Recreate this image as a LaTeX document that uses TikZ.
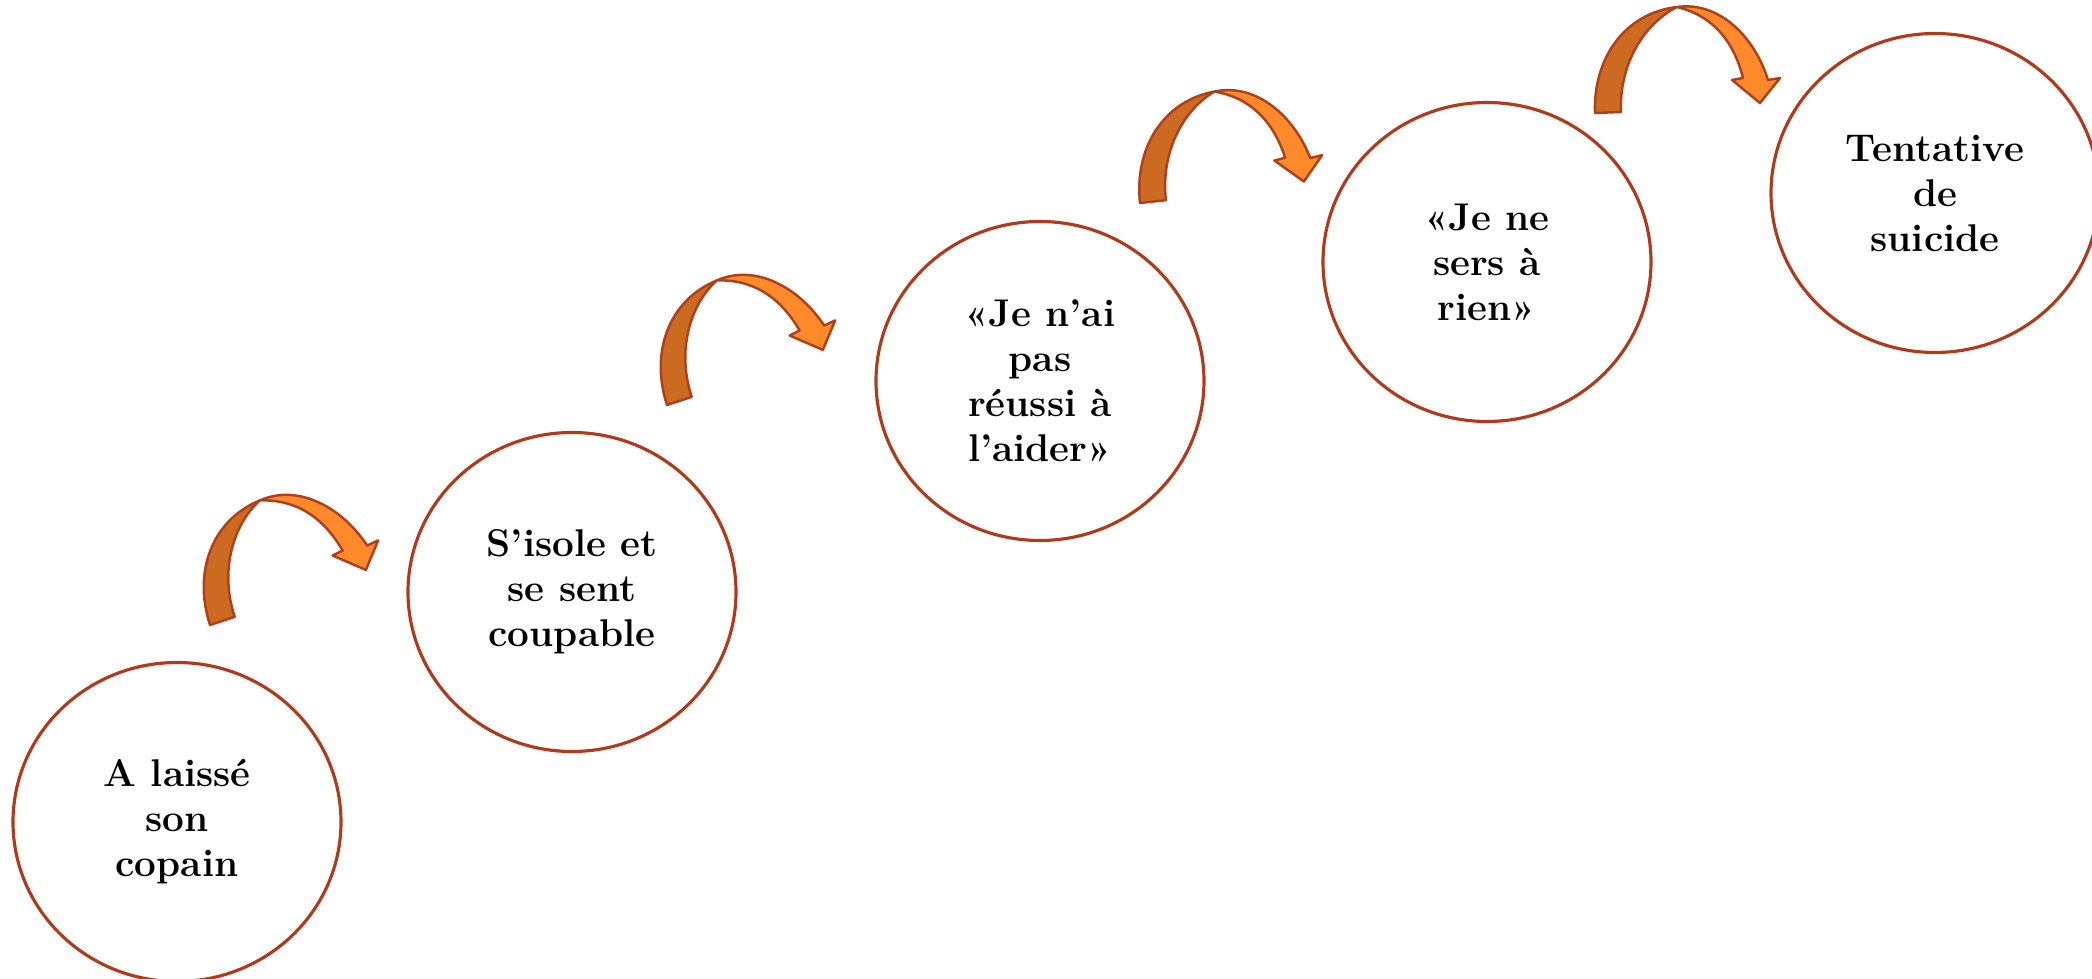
\documentclass[tikz,border=0pt]{standalone}
\usepackage{fontspec}
\usepackage{tikz}
\usetikzlibrary{shapes.geometric, positioning}

\definecolor{ringred}{HTML}{B23A1A}
\definecolor{arrowdark}{HTML}{CC6A22}
\definecolor{arrowlight}{HTML}{FF8A2C}
\definecolor{arrowline}{HTML}{B0401A}

\begin{document}
\begin{tikzpicture}[
        stage/.style={ellipse, draw=ringred, fill=white, line width=0.9pt, minimum width=3.28cm, minimum height=3.19cm, inner sep=0pt, align=center, font=\bfseries\fontsize{11}{12.8}\selectfont},
        bentarrow/.pic={
            \path[fill=arrowdark, draw=arrowline, line width=0.7pt, line join=round] (0,0) .. controls (-0.02,0.55) and (0.30,1.00) .. (0.82,1.06) .. controls (0.50,0.90) and (0.24,0.50) .. (0.26,0.01) -- cycle;
            \path[fill=arrowlight, draw=arrowline, line width=0.7pt, line join=round] (0.82,1.06) .. controls (1.25,1.12) and (1.60,0.75) .. (1.73,0.33) -- (1.85,0.35) -- (1.65,0.10) -- (1.37,0.33) -- (1.48,0.35) .. controls (1.38,0.75) and (1.15,0.98) .. (0.82,1.06) -- cycle;
        }
    ]
        \useasboundingbox (0,0) rectangle (20.92,-9.79);

        % Step 1
        \node[stage] (s1) at (1.77, -8.22) {A laissé\\son\\copain};

        % Step 2
        \node[stage] (s2) at (5.72, -5.92) {S’isole et\\se sent\\coupable};

        % Step 3
        \node[stage] (s3) at (10.40, -3.81) {«Je n’ai\\pas\\réussi à\\l’aider»};

        % Step 4
        \node[stage] (s4) at (14.87, -2.62) {«Je ne\\sers à\\rien»};

        % Step 5
        \node[stage] (s5) at (19.35, -1.93) {Tentative\\de\\suicide};

        % Arrows
        \pic[rotate=16] (a1) at (2.10, -6.25) {bentarrow};
        \pic[rotate=16] (a2) at (6.67, -4.05) {bentarrow};
        \pic[rotate=4] (a3) at (11.40, -2.03) {bentarrow};
        \pic (a4) at (15.95, -1.13) {bentarrow};
    \end{tikzpicture}
\end{document}
